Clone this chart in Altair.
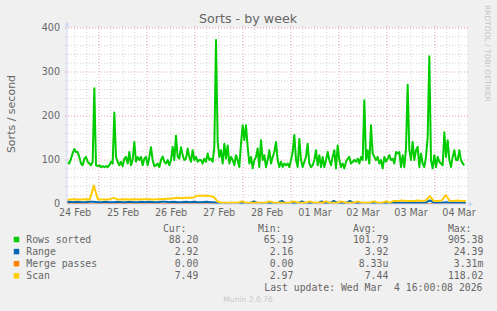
import altair as alt
import pandas as pd

# ---------------- data ----------------
title_text = "Sorts - by week"
y_title = "Sorts / second"
watermark = "RRDTOOL / TOBI OETIKER"
footer = "Munin 2.0.76"
last_update = "Last update: Wed Mar\u00a0 4 16:00:08 2026"

day_labels = ["24 Feb", "25 Feb", "26 Feb", "27 Feb", "28 Feb", "01 Mar", "02 Mar", "03 Mar", "04 Mar"]
day_label_hours = [4, 28, 52, 76, 100, 124, 148, 172, 196]   # hours from start of the window
major_grid_hours = [16, 40, 64, 88, 112, 136, 160, 184]
y_ticks = [0, 100, 200, 300, 400]

series_names = ["Rows sorted", "Range", "Merge passes", "Scan"]
series_colors = ["#00cc00", "#0066b3", "#ff8000", "#ffcc00"]
cur_vals = ["88.20", "2.92", "0.00", "7.49"]
min_vals = ["65.19", "2.16", "0.00", "2.97"]
avg_vals = ["101.79", "3.92", "8.33u", "7.44"]
max_vals = ["905.38", "24.39", "3.31m", "118.02"]

# Rows sorted: one sample every 50 min, first at 0h20 of the window
rows_start_h = 20 / 60
rows_step_h = 50 / 60
rows_sorted = [
    95, 92, 103, 115, 125, 118, 118, 107, 92, 88,
    103, 107, 96, 92, 88, 96, 263, 88, 86, 88,
    84, 86, 84, 86, 84, 88, 96, 92, 208, 107,
    96, 88, 96, 86, 103, 107, 92, 118, 88, 100,
    141, 96, 107, 100, 107, 88, 103, 107, 88, 107,
    129, 100, 86, 88, 92, 84, 100, 108, 96, 92,
    100, 88, 100, 130, 100, 155, 107, 103, 129, 111,
    100, 103, 126, 107, 96, 122, 100, 107, 96, 100,
    100, 92, 103, 96, 115, 100, 103, 96, 130, 373,
    141, 107, 122, 92, 137, 103, 133, 92, 107, 100,
    88, 111, 100, 84, 137, 179, 145, 179, 130, 92,
    107, 81, 100, 107, 126, 84, 145, 100, 111, 84,
    100, 122, 92, 107, 118, 141, 100, 84, 96, 84,
    92, 88, 92, 84, 100, 118, 157, 100, 84, 148,
    100, 84, 96, 107, 137, 92, 84, 88, 100, 122,
    88, 111, 84, 107, 84, 100, 118, 100, 88, 107,
    122, 81, 133, 100, 84, 92, 81, 96, 103, 107,
    92, 96, 100, 96, 103, 92, 107, 100, 236, 100,
    122, 92, 179, 115, 107, 100, 107, 92, 100, 81,
    107, 96, 103, 111, 100, 103, 92, 118, 115, 118,
    84, 111, 84, 126, 271, 122, 100, 141, 100, 122,
    130, 84, 115, 92, 84, 107, 152, 336, 100, 81,
    111, 84, 107, 96, 92, 88, 163, 107, 145, 100,
    84, 107, 122, 100, 100, 122, 100, 92, 88,
]

# Range / Merge passes / Scan: one sample every 2 h
small_start_h = -0.6
small_step_h = 2.0
range_vals = [
    4, 5, 4, 5, 4, 4, 5, 5, 4, 4,
    5, 4, 4, 5, 4, 4, 5, 4, 4, 5,
    4, 5, 4, 4, 5, 5, 4, 5, 4, 4,
    5, 4, 5, 4, 4, 5, 4, 4, 2, 2,
    2, 2, 2, 2, 2, 2, 2, 6, 2, 2,
    2, 2, 2, 2, 7, 2, 2, 2, 2, 6,
    2, 2, 2, 2, 6, 2, 2, 7, 2, 2,
    2, 7, 2, 2, 2, 2, 2, 2, 2, 2,
    2, 2, 3, 3, 3, 3, 3, 3, 3, 3,
    3, 8, 3, 3, 3, 4, 3, 3, 3, 3,
    3,
]
merge_vals = [
    0, 0, 0, 0, 0, 0, 0, 0, 0, 0,
    0, 0, 0, 0, 0, 0, 0, 0, 0, 0,
    0, 0, 0, 0, 0, 0, 0, 0, 0, 0,
    0, 0, 0, 0, 0, 0, 0, 0, 0, 0,
    0, 0, 0, 0, 0, 0, 0, 0, 0, 0,
    0, 0, 0, 0, 0, 0, 0, 0, 0, 0,
    0, 0, 0, 0, 0, 0, 0, 0, 0, 0,
    0, 0, 0, 0, 0, 0, 0, 0, 0, 0,
    0, 0, 0, 0, 0, 0, 0, 0, 0, 0,
    0, 0, 0, 0, 0, 0, 0, 0, 0, 0,
    0,
]
scan_vals = [
    9, 10, 11, 10, 10, 11, 10, 42, 11, 10,
    10, 11, 14, 10, 10, 11, 10, 11, 10, 11,
    11, 11, 10, 11, 11, 12, 12, 13, 14, 13,
    14, 14, 15, 19, 19, 19, 18, 16, 5, 3,
    3, 3, 3, 3, 6, 3, 3, 3, 3, 3,
    3, 6, 3, 3, 3, 3, 3, 6, 3, 3,
    3, 6, 3, 3, 3, 6, 3, 3, 3, 6,
    3, 3, 3, 6, 3, 3, 3, 6, 3, 3,
    6, 3, 7, 7, 8, 7, 7, 7, 8, 7,
    8, 18, 7, 7, 8, 20, 7, 7, 8, 7,
    7,
]

# ---------------- layout ----------------
OX, OY = 67, 28          # plot origin in the page
W, H = 400, 176          # plot area
FONT = "DejaVu Sans"
MONO = "DejaVu Sans Mono"
FG = "#666666"
AXIS_COL = "#cfd6f8"

xscale = alt.Scale(domain=[0, 200], nice=False, zero=False)
yscale = alt.Scale(domain=[0, 400], nice=False)


def series_df(start, step, vals):
    return pd.DataFrame({"h": [start + i * step for i in range(len(vals))], "v": vals})


df_rows = series_df(rows_start_h, rows_step_h, rows_sorted)
df_range = series_df(small_start_h, small_step_h, range_vals)
df_merge = series_df(small_start_h, small_step_h, merge_vals)
df_scan = series_df(small_start_h, small_step_h, scan_vals)

# grid
minor_h = [h for h in range(4, 200, 6) if h not in major_grid_hours]
minor_v = [v for v in range(20, 400, 20) if v % 100 != 0]
major_v = [100, 200, 300, 400]

grid_minor_x = alt.Chart(pd.DataFrame({"h": minor_h})).mark_rule(
    color="#d2d2d2", strokeDash=[1, 2], strokeWidth=1
).encode(x=alt.X("h:Q", scale=xscale, axis=None), y=alt.value(-2), y2=alt.value(H + 2))
grid_major_x = alt.Chart(pd.DataFrame({"h": major_grid_hours})).mark_rule(
    color="#eaa0a0", strokeDash=[1, 2], strokeWidth=1
).encode(x=alt.X("h:Q", scale=xscale, axis=None), y=alt.value(-2), y2=alt.value(H + 2))
grid_minor_y = alt.Chart(pd.DataFrame({"v": minor_v})).mark_rule(
    color="#d2d2d2", strokeDash=[1, 2], strokeWidth=1
).encode(y=alt.Y("v:Q", scale=yscale, axis=None), x=alt.value(-2), x2=alt.value(W + 2))
grid_major_y = alt.Chart(pd.DataFrame({"v": major_v})).mark_rule(
    color="#eaa0a0", strokeDash=[1, 2], strokeWidth=1
).encode(y=alt.Y("v:Q", scale=yscale, axis=None), x=alt.value(-2), x2=alt.value(W + 2))

# tick labels drawn through the scales
x_labels = alt.Chart(pd.DataFrame({"h": day_label_hours, "t": day_labels})).mark_text(
    align="center", baseline="top", font=FONT, fontSize=9.6, color=FG
).encode(x=alt.X("h:Q", scale=xscale, axis=None), y=alt.value(H + 4), text="t:N")
y_labels = alt.Chart(pd.DataFrame({"v": y_ticks})).mark_text(
    align="right", baseline="middle", font=FONT, fontSize=9.6, color=FG
).encode(y=alt.Y("v:Q", scale=yscale, axis=None), x=alt.value(-7), text="v:Q")


def line(df, color):
    return alt.Chart(df).mark_line(color=color, strokeWidth=2, clip=True, strokeJoin="round").encode(
        x=alt.X("h:Q", scale=xscale, axis=None),
        y=alt.Y("v:Q", scale=yscale, axis=None),
    )


l_rows = line(df_rows, series_colors[0])
l_merge = line(df_merge, series_colors[2])
l_range = line(df_range, series_colors[1])
l_scan = line(df_scan, series_colors[3])

# axis lines and arrows
x_axis_line = alt.Chart(pd.DataFrame({"v": [0]})).mark_rule(color=AXIS_COL, strokeWidth=1).encode(
    y=alt.Y("v:Q", scale=yscale, axis=None), x=alt.value(0), x2=alt.value(W + 2))
y_axis_line = alt.Chart(pd.DataFrame({"h": [0]})).mark_rule(color=AXIS_COL, strokeWidth=1).encode(
    x=alt.X("h:Q", scale=xscale, axis=None), y=alt.value(-4), y2=alt.value(H))
arrow_up = alt.Chart(pd.DataFrame({"a": [0]})).mark_point(
    shape="triangle-up", filled=True, color=AXIS_COL, size=30, opacity=1
).encode(x=alt.value(0), y=alt.value(-4))
arrow_right = alt.Chart(pd.DataFrame({"a": [0]})).mark_point(
    shape="triangle-right", filled=True, color=AXIS_COL, size=30, opacity=1
).encode(x=alt.value(W + 4), y=alt.value(H))


def txt(text, x, y, size, color=FG, font=FONT, align="left", baseline="middle", angle=0):
    return alt.Chart(pd.DataFrame({"t": [text]})).mark_text(
        align=align, baseline=baseline, font=font, fontSize=size, color=color, angle=angle
    ).encode(x=alt.value(x - OX), y=alt.value(y - OY), text="t:N")


t_title = txt(title_text, 248, 23, 12.7, align="center", baseline="alphabetic")
t_ytitle = txt(y_title, 15, 114, 11, align="center", baseline="alphabetic", angle=270)
t_water = txt(watermark, 485, 5, 7.5, color="#c4c4c4", align="left", baseline="alphabetic", angle=90)
t_footer = txt(footer, 248, 300, 7.6, color="#c8c8c8", align="center")
t_update = txt(last_update, 482.5, 287.5, 9.8, font=MONO, align="right")
t_hdr = [
    txt("Cur:", 186.5, 228.5, 9.8, font=MONO, align="right"),
    txt("Min:", 281.5, 228.5, 9.8, font=MONO, align="right"),
    txt("Avg:", 376.5, 228.5, 9.8, font=MONO, align="right"),
    txt("Max:", 471.5, 228.5, 9.8, font=MONO, align="right"),
]

main = alt.layer(
    grid_minor_x, grid_minor_y, grid_major_x, grid_major_y,
    l_rows, l_merge, l_range, l_scan,
    x_axis_line, y_axis_line, arrow_up, arrow_right,
    x_labels, y_labels,
    t_title, t_ytitle, t_water, t_footer, t_update, *t_hdr,
)

# ---------------- legend table ----------------
def fmt(s):
    return s if s[-1].isalpha() else s + "\u00a0"


leg = pd.DataFrame({
    "row": list(range(len(series_names))),
    "name": series_names,
    "cur": [fmt(s) for s in cur_vals],
    "min": [fmt(s) for s in min_vals],
    "avg": [fmt(s) for s in avg_vals],
    "max": [fmt(s) for s in max_vals],
})
leg_y = alt.Y("row:Q", scale=alt.Scale(domain=[0, 3], range=[239.5 - OY, 275.8 - OY]), axis=None)
base = alt.Chart(leg)
squares = base.mark_square(size=30, opacity=1).encode(
    x=alt.value(16.5 - OX), y=leg_y,
    color=alt.Color("name:N", scale=alt.Scale(domain=series_names, range=series_colors), legend=None))


def col(field, right_x, align="right"):
    return base.mark_text(align=align, baseline="middle", font=MONO, fontSize=9.8, color=FG).encode(
        x=alt.value(right_x - OX), y=leg_y, text=f"{field}:N")


legend = alt.layer(
    squares,
    col("name", 26.3, "left"),
    col("cur", 198.3), col("min", 293.3), col("avg", 388.3), col("max", 483.3),
)

chart = alt.layer(main, legend).resolve_scale(y="independent").properties(
    width=W, height=H,
    autosize=alt.AutoSizeParams(type="none"),
    padding={"left": OX, "top": OY, "right": 497 - OX - W, "bottom": 311 - OY - H},
    background="#f0f0f0",
).configure_view(fill="#ffffff", strokeWidth=0)

chart.save("out.html", embed_options={"renderer": "svg", "actions": False})
